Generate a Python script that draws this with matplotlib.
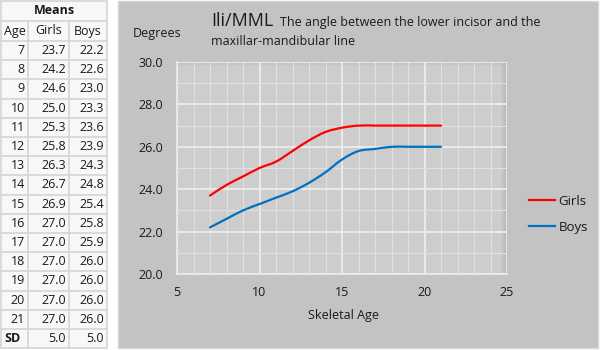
"""Ili/MML chart: mean angle by skeletal age, with the table of means beside it."""

import matplotlib

matplotlib.use("Agg")
import matplotlib.pyplot as plt
from matplotlib.lines import Line2D
from matplotlib.patches import PathPatch, Rectangle
from matplotlib.path import Path

plt.rcParams["font.family"] = ["Open Sans", "DejaVu Sans"]

ages = [7, 8, 9, 10, 11, 12, 13, 14, 15, 16, 17, 18, 19, 20, 21]
girls = [23.7, 24.2, 24.6, 25.0, 25.3, 25.8, 26.3, 26.7, 26.9, 27.0, 27.0, 27.0, 27.0, 27.0, 27.0]
boys = [22.2, 22.6, 23.0, 23.3, 23.6, 23.9, 24.3, 24.8, 25.4, 25.8, 25.9, 26.0, 26.0, 26.0, 26.0]
sd = [5.0, 5.0]
series = ["Girls", "Boys"]
colors = ["#ff0000", "#0070c0"]

INK = "#1a1a1a"
PANEL = "#c3c3c3"
PLOT_BG = "#cdcdcd"
CELL_LINE = "#d4d4d4"
FS = 9


def smooth_path(xs, ys):
    """Excel-style smoothed line: cubic Bezier through every data point."""
    pts = list(zip(xs, ys))
    verts = [pts[0]]
    codes = [Path.MOVETO]
    n = len(pts)
    for i in range(n - 1):
        p0 = pts[max(i - 1, 0)]
        p1 = pts[i]
        p2 = pts[i + 1]
        p3 = pts[min(i + 2, n - 1)]
        c1 = (p1[0] + (p2[0] - p0[0]) / 6, p1[1] + (p2[1] - p0[1]) / 6)
        c2 = (p2[0] - (p3[0] - p1[0]) / 6, p2[1] - (p3[1] - p1[1]) / 6)
        verts += [c1, c2, p2]
        codes += [Path.CURVE4] * 3
    return Path(verts, codes)


fig = plt.figure(figsize=(6, 3.5), dpi=100, facecolor="white")

# ---- table of means (pixel coordinates) ----
tab = fig.add_axes([0, 0, 1, 1])
tab.set_xlim(0, 600)
tab.set_ylim(350, 0)
tab.axis("off")

cols = [1, 28, 69, 107]
row_h = 19.2
n_rows = len(ages) + 1
bottom = 41 + n_rows * row_h
tab.add_patch(Rectangle((cols[0], 1), cols[-1] - cols[0], bottom - 1,
                        facecolor="#f8f8f8", edgecolor=CELL_LINE, lw=1.2))
for y in [21, 41] + [41 + k * row_h for k in range(1, n_rows)]:
    tab.plot([cols[0], cols[-1]], [y, y], color=CELL_LINE, lw=1.2)
for x in cols[1:-1]:
    tab.plot([x, x], [21, bottom], color=CELL_LINE, lw=1.2)

tab.text((cols[0] + cols[-1]) / 2, 11, "Means", ha="center", va="center",
         fontsize=FS, fontweight="bold", color=INK)
for j, head in enumerate(["Age"] + series):
    tab.text((cols[j] + cols[j + 1]) / 2, 31, head, ha="center", va="center",
             fontsize=FS, color=INK)
for k, (a, g, b) in enumerate(zip(ages, girls, boys)):
    yc = 41 + (k + 0.5) * row_h
    tab.text(cols[1] - 3, yc, f"{a}", ha="right", va="center", fontsize=FS, color=INK)
    tab.text(cols[2] - 3, yc, f"{g:.1f}", ha="right", va="center", fontsize=FS, color=INK)
    tab.text(cols[3] - 3, yc, f"{b:.1f}", ha="right", va="center", fontsize=FS, color=INK)
yc = 41 + (n_rows - 0.5) * row_h
tab.text(cols[0] + 3, yc, "SD", ha="left", va="center", fontsize=FS,
         fontweight="bold", color=INK)
tab.text(cols[2] - 3, yc, f"{sd[0]:.1f}", ha="right", va="center", fontsize=FS, color=INK)
tab.text(cols[3] - 3, yc, f"{sd[1]:.1f}", ha="right", va="center", fontsize=FS, color=INK)

# grey chart panel
tab.add_patch(Rectangle((118, 1), 480, 347, facecolor=PANEL,
                        edgecolor="#d6d6d6", lw=1.0))

# ---- chart ----
ax = fig.add_axes([177 / 600, 1 - 274 / 350, 330 / 600, 212 / 350])
ax.set_facecolor(PLOT_BG)
ax.set_xlim(5, 25)
ax.set_ylim(20, 30)
ax.set_xticks([5, 10, 15, 20, 25])
ax.set_xticks(range(5, 26), minor=True)
ax.set_yticks([20, 22, 24, 26, 28, 30])
ax.set_yticks(range(20, 31), minor=True)
ax.set_yticklabels([f"{v:.1f}" for v in [20, 22, 24, 26, 28, 30]])
ax.set_axisbelow(True)
ax.grid(which="minor", color="#e0e0e0", lw=0.8)
ax.grid(which="major", color="#ededed", lw=1.3)
ax.tick_params(which="both", length=0, colors=INK, labelsize=FS)
ax.tick_params(axis="y", pad=10)
ax.tick_params(axis="x", pad=9)
for side in ("top", "right"):
    ax.spines[side].set_visible(False)
for side in ("left", "bottom"):
    ax.spines[side].set_color("#ececec")
    ax.spines[side].set_linewidth(1.2)

# inner shadow along the top and right edges
for i in range(6):
    a = 0.05 * (6 - i)
    ax.add_patch(Rectangle((1 - (i + 1) * 0.003, 0), 0.003, 1, transform=ax.transAxes,
                           facecolor="#808080", alpha=a, lw=0, zorder=0.2))
for i in range(4):
    a = 0.04 * (4 - i)
    ax.add_patch(Rectangle((0, 1 - (i + 1) * 0.0047), 1, 0.0047, transform=ax.transAxes,
                           facecolor="#808080", alpha=a, lw=0, zorder=0.2))

handles = []
for name, vals, col in zip(series, [girls, boys], colors):
    ax.add_patch(PathPatch(smooth_path(ages, vals), fill=False, edgecolor=col,
                           lw=1.6, capstyle="round", zorder=3))
    handles.append(Line2D([], [], color=col, lw=1.6, label=name))

fig.legend(handles=handles, loc="center left", bbox_to_anchor=(529 / 600, 1 - 214.5 / 350),
           frameon=False, fontsize=FS + 0.5, handlelength=2.0, handletextpad=0.25,
           labelspacing=1.0, borderpad=0, borderaxespad=0, labelcolor=INK)

fig.text(133 / 600, 1 - 34 / 350, "Degrees", ha="left", va="center", fontsize=FS, color=INK)
fig.text(343 / 600, 1 - 315 / 350, "Skeletal Age", ha="center", va="center",
         fontsize=FS, color=INK)
fig.text(211 / 600, 1 - 26 / 350, "Ili/MML", ha="left", va="baseline", fontsize=13, color=INK)
fig.text(280 / 600, 1 - 26 / 350, "The angle between the lower incisor and the",
         ha="left", va="baseline", fontsize=FS, color=INK)
fig.text(211 / 600, 1 - 45 / 350, "maxillar-mandibular line",
         ha="left", va="baseline", fontsize=FS, color=INK)

fig.savefig("out.png", dpi=100, facecolor="white")
plt.close(fig)
